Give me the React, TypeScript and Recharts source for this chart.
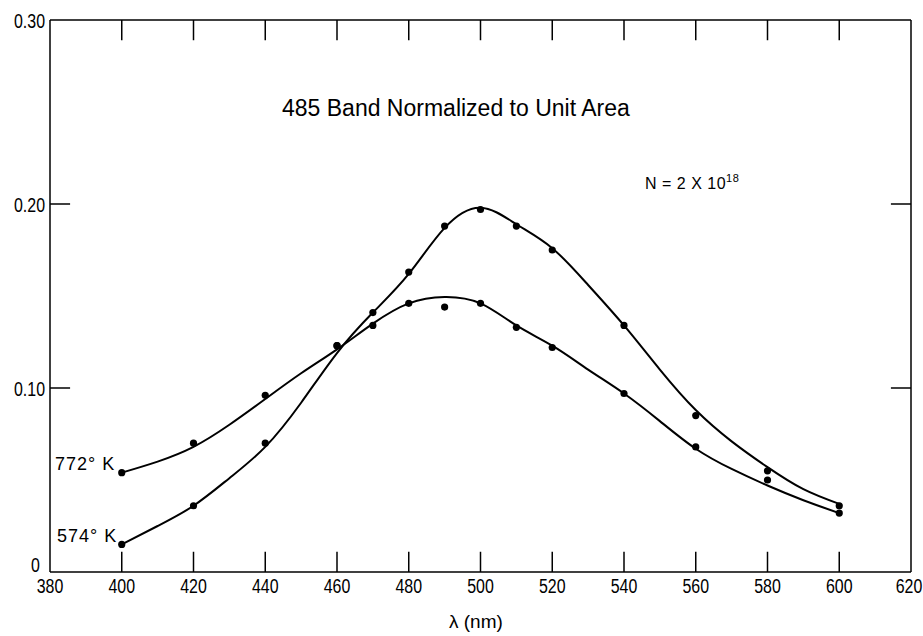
import { ComposedChart, Line, Scatter, XAxis, YAxis, ReferenceLine } from "recharts";

// measured points (nm, normalized intensity)
const dotWavelengths = [400, 420, 440, 460, 470, 480, 490, 500, 510, 520, 540, 560, 580, 600];
const dots772 = [0.054, 0.070, 0.096, 0.123, 0.134, 0.146, 0.144, 0.146, 0.133, 0.122, 0.097, 0.068, 0.050, 0.032];
const dots574 = [0.015, 0.036, 0.070, 0.123, 0.141, 0.163, 0.188, 0.197, 0.188, 0.175, 0.134, 0.085, 0.055, 0.036];

// smooth fitted curves
const curveWavelengths = [400, 410, 420, 430, 440, 450, 460, 470, 480, 490, 500, 510, 520, 530, 540, 550, 560, 570, 580, 590, 600];
const curve772 = [0.054, 0.060, 0.068, 0.080, 0.094, 0.108, 0.121, 0.135, 0.146, 0.1495, 0.146, 0.134, 0.123, 0.110, 0.097, 0.082, 0.067, 0.056, 0.047, 0.039, 0.032];
const curve574 = [0.015, 0.025, 0.036, 0.051, 0.068, 0.092, 0.119, 0.141, 0.162, 0.187, 0.198, 0.189, 0.176, 0.156, 0.134, 0.110, 0.088, 0.071, 0.057, 0.045, 0.037];

const xTicks = [380, 400, 420, 440, 460, 480, 500, 520, 540, 560, 580, 600, 620];
const yTicks = [0, 0.1, 0.2, 0.3];
const yTickLabels = ["0", "0.10", "0.20", "0.30"];
const innerXTicks = xTicks.slice(1, -1);
const innerYTicks = yTicks.slice(1, -1);

const dots772Data = dotWavelengths.map((x, i) => ({ x, y: dots772[i] }));
const dots574Data = dotWavelengths.map((x, i) => ({ x, y: dots574[i] }));
const curve772Data = curveWavelengths.map((x, i) => ({ x, y: curve772[i] }));
const curve574Data = curveWavelengths.map((x, i) => ({ x, y: curve574[i] }));

const tickFont = "'Liberation Sans', Arial, sans-serif";
const textFont = "'Liberation Sans', Arial, sans-serif";

const W = 923;
const H = 636;
// inward tick lengths in data units (about 20 px on each axis)
const X_TICK_LEN = 0.011;
const Y_TICK_LEN = 5.6;

// condensed tick text, like the typed labels of the original plot
const TickText = ({ x, y, anchor, children }: any) => (
  <text
    transform={`translate(${x},${y}) scale(0.76,1)`}
    textAnchor={anchor}
    fontFamily={tickFont}
    fontSize={21}
    fill="#000"
  >
    {children}
  </text>
);

const BottomTick = (props: any) => {
  const { x, y, payload } = props;
  const shift = payload.value === 620 ? -2 : 0;
  return (
    <TickText x={x + shift} y={y + 21} anchor="middle">
      {payload.value}
    </TickText>
  );
};

const LeftTick = (props: any) => {
  const { x, y, payload, index } = props;
  const zero = payload.value === 0;
  return (
    <TickText x={x - (zero ? 10 : 5)} y={zero ? y : y + 8} anchor="end">
      {yTickLabels[index]}
    </TickText>
  );
};

const Dot = (props: any) => <circle cx={props.cx} cy={props.cy} r={3.6} fill="#000" />;

const tickStroke = { stroke: "#000", strokeWidth: 1.5 };

export default function App() {
  return (
    <div style={{ position: "absolute", left: 0, top: 0, width: W, height: H, background: "#fff" }}>
      <ComposedChart width={W} height={H} margin={{ top: 19, right: 11, bottom: 0, left: 0 }}>
        <XAxis
          dataKey="x"
          type="number"
          domain={[380, 620]}
          ticks={xTicks}
          height={64}
          tickSize={0}
          tickMargin={0}
          tickLine={false}
          axisLine={{ stroke: "#000", strokeWidth: 1.5 }}
          tick={<BottomTick />}
          interval={0}
          allowDataOverflow
        />
        <XAxis
          xAxisId="top"
          orientation="top"
          dataKey="x"
          type="number"
          domain={[380, 620]}
          ticks={xTicks}
          height={1}
          tick={false}
          tickLine={false}
          axisLine={{ stroke: "#000", strokeWidth: 1.5 }}
          allowDataOverflow
        />
        <YAxis
          dataKey="y"
          type="number"
          domain={[0, 0.3]}
          ticks={yTicks}
          width={50}
          tickSize={0}
          tickMargin={0}
          tickLine={false}
          axisLine={{ stroke: "#000", strokeWidth: 1.5 }}
          tick={<LeftTick />}
          interval={0}
          allowDataOverflow
        />
        <YAxis
          yAxisId="right"
          orientation="right"
          dataKey="y"
          type="number"
          domain={[0, 0.3]}
          ticks={yTicks}
          width={1}
          tick={false}
          tickLine={false}
          axisLine={{ stroke: "#000", strokeWidth: 1.5 }}
          allowDataOverflow
        />

        {/* inward tick marks on all four sides of the frame */}
        {innerXTicks.map((t) => (
          <ReferenceLine key={`b${t}`} segment={[{ x: t, y: 0 }, { x: t, y: X_TICK_LEN }]} {...tickStroke} ifOverflow="visible" />
        ))}
        {innerXTicks.map((t) => (
          <ReferenceLine key={`t${t}`} segment={[{ x: t, y: 0.3 }, { x: t, y: 0.3 - X_TICK_LEN }]} {...tickStroke} ifOverflow="visible" />
        ))}
        {innerYTicks.map((t) => (
          <ReferenceLine key={`l${t}`} segment={[{ x: 380, y: t }, { x: 380 + Y_TICK_LEN, y: t }]} {...tickStroke} ifOverflow="visible" />
        ))}
        {innerYTicks.map((t) => (
          <ReferenceLine key={`r${t}`} segment={[{ x: 620, y: t }, { x: 620 - Y_TICK_LEN, y: t }]} {...tickStroke} ifOverflow="visible" />
        ))}

        <Line data={curve772Data} dataKey="y" type="natural" stroke="#000" strokeWidth={2} dot={false} isAnimationActive={false} />
        <Line
          data={curve574Data}
          xAxisId="top"
          yAxisId="right"
          dataKey="y"
          type="natural"
          stroke="#000"
          strokeWidth={2}
          dot={false}
          isAnimationActive={false}
        />
        <Scatter data={dots772Data} dataKey="y" shape={<Dot />} isAnimationActive={false} />
        <Scatter data={dots574Data} xAxisId="top" yAxisId="right" dataKey="y" shape={<Dot />} isAnimationActive={false} />
      </ComposedChart>

      <div style={{ position: "absolute", left: 282, top: 95, fontFamily: textFont, fontSize: 23, color: "#000", whiteSpace: "nowrap" }}>
        485 Band Normalized to Unit Area
      </div>
      <div style={{ position: "absolute", left: 645, top: 175, fontFamily: textFont, fontSize: 16, letterSpacing: 0.5, color: "#000", whiteSpace: "nowrap" }}>
        N = 2 X 10<span style={{ fontSize: 11, position: "relative", top: -7 }}>18</span>
      </div>
      <div style={{ position: "absolute", left: 55, top: 454, fontFamily: textFont, fontSize: 18, letterSpacing: 1, color: "#000", whiteSpace: "nowrap" }}>
        772° K
      </div>
      <div style={{ position: "absolute", left: 57, top: 526, fontFamily: textFont, fontSize: 18, letterSpacing: 1, color: "#000", whiteSpace: "nowrap" }}>
        574° K
      </div>
      <div style={{ position: "absolute", left: 449, top: 611, fontFamily: textFont, fontSize: 19, color: "#000", whiteSpace: "nowrap" }}>
        λ (nm)
      </div>
    </div>
  );
}
